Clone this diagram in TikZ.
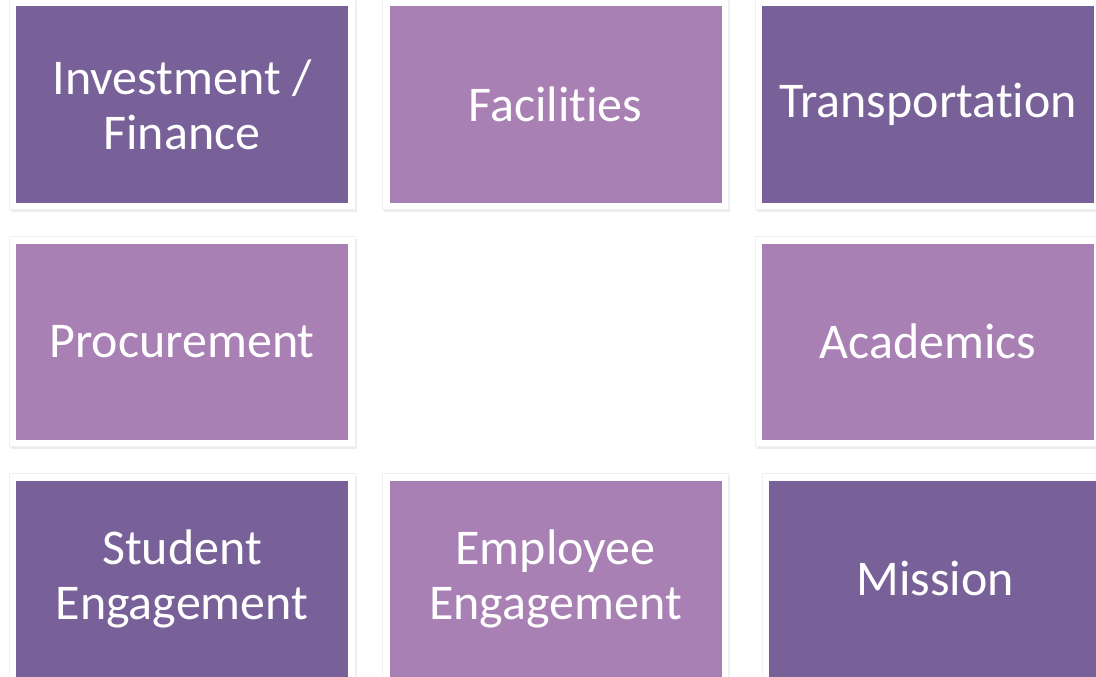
\documentclass[tikz,border=0pt]{standalone}
\usepackage{fontspec}
\setmainfont{Carlito}[Ligatures={NoCommon}]
\usetikzlibrary{shadows}
\definecolor{darkpurple}{RGB}{120,96,152}
\definecolor{lightpurple}{RGB}{168,128,180}
\begin{document}
\begin{tikzpicture}[x=1pt,y=-1pt]
    \tikzset{
        tile/.style={minimum width=346pt, minimum height=210pt, inner sep=0pt,
            fill=white, draw=black!6, line width=0.6pt,
            drop shadow={opacity=0.15, shadow xshift=1.5pt, shadow yshift=-2pt},
            align=center, text=white, font=\fontsize{50}{55}\selectfont,
            path picture={\fill[#1] ([shift={(7pt,-7pt)}]path picture bounding box.north west)
                rectangle ([shift={(-7pt,7pt)}]path picture bounding box.south east);}},
        darktile/.style={tile=darkpurple},
        lighttile/.style={tile=lightpurple}}
    \useasboundingbox (0,0) rectangle (1096,677);
    \clip (0,0) rectangle (1096,677);
    % top row
    \node[darktile] (inv) at (182,104.5) {Investment /\\Finance};
    \node[lighttile] (fac) at (555.5,104.5) {Facilities};
    \node[darktile] (trans) at (928,104.5) {Transportation};
    % middle row
    \node[lighttile] (proc) at (182,341.5) {Procurement};
    \node[lighttile] (acad) at (928,341.5) {Academics};
    % bottom row
    \node[darktile] (stud) at (182,578.5) {Student\\Engagement};
    \node[lighttile] (empl) at (555.5,578.5) {Employee\\Engagement};
    \node[darktile] (miss) at (935,578.5) {Mission};
\end{tikzpicture}
\end{document}
